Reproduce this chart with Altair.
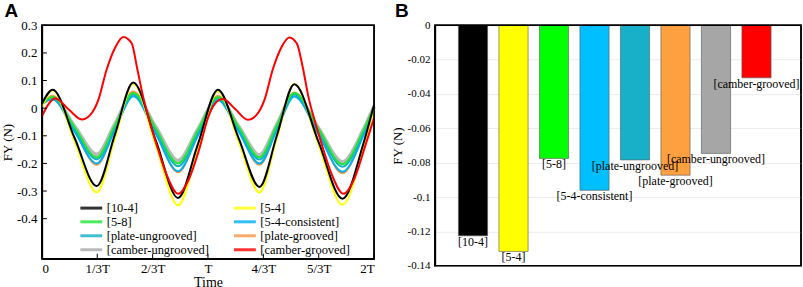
import altair as alt
import pandas as pd

SERIES = ["[10-4]", "[5-4]", "[5-8]", "[5-4-consistent]", "[plate-ungrooved]",
          "[plate-grooved]", "[camber-ungrooved]", "[camber-grooved]"]
LINE_COLORS = ["#000000", "#FFFF00", "#1EE632", "#00B0F0", "#12AEC8", "#F79646", "#A9A9A9", "#FF0000"]
BAR_COLORS = ["#000000", "#FFFF00", "#00FF00", "#00BFFF", "#17B0C8", "#FFA040", "#A6A6A6", "#FF0000"]

# Panel A: time in units of T, FY in N
T_KEY = [0, 0.065, 0.197, 0.33, 0.44, 0.55, 0.685, 0.82, 0.94,
         1.06, 1.185, 1.31, 1.415, 1.52, 1.665, 1.81, 1.935, 2.0]
FY_10_4 = [0.015, 0.067, -0.108, -0.282, -0.095, 0.093, -0.116, -0.325, -0.129,
           0.067, -0.109, -0.285, -0.099, 0.087, -0.121, -0.328, -0.13, 0.012]
FY_5_4 = [0.005, 0.065, -0.12, -0.305, -0.109, 0.088, -0.132, -0.352, -0.145,
          0.062, -0.122, -0.305, -0.109, 0.088, -0.132, -0.35, -0.145, 0.0]
FY_5_8 = [0.012, 0.04, -0.069, -0.178, -0.062, 0.055, -0.073, -0.2, -0.08,
          0.04, -0.069, -0.178, -0.062, 0.055, -0.074, -0.203, -0.082, 0.005]
FY_5_4_CONS = [0.022, 0.031, -0.085, -0.2, -0.079, 0.043, -0.093, -0.228, -0.099,
               0.03, -0.085, -0.2, -0.079, 0.042, -0.094, -0.23, -0.1, 0.0]
FY_PLATE_UNG = [0.014, 0.036, -0.075, -0.185, -0.068, 0.05, -0.08, -0.21, -0.087,
                0.036, -0.075, -0.186, -0.068, 0.05, -0.081, -0.212, -0.088, 0.003]
FY_PLATE_GR = [0.012, 0.045, -0.08, -0.205, -0.073, 0.06, -0.086, -0.232, -0.094,
               0.045, -0.08, -0.205, -0.074, 0.057, -0.089, -0.235, -0.095, 0.0]
FY_CAMBER_UNG = [0.016, 0.036, -0.066, -0.168, -0.058, 0.052, -0.069, -0.19, -0.077,
                 0.036, -0.067, -0.17, -0.06, 0.05, -0.073, -0.195, -0.08, 0.006]
T_RED = [0, 0.035, 0.08, 0.16, 0.24, 0.29, 0.34, 0.39, 0.44, 0.49, 0.54, 0.575, 0.61,
         0.65, 0.69, 0.75, 0.82, 0.89, 0.95, 1.0, 1.04, 1.09, 1.165, 1.24, 1.29, 1.34,
         1.39, 1.44, 1.49, 1.535, 1.57, 1.605, 1.645, 1.685, 1.745, 1.815, 1.885, 1.945, 2.0]
FY_CAMBER_GR = [-0.03, 0.01, 0.036, -0.004, -0.041, -0.025, 0.03, 0.14, 0.218, 0.258, 0.236,
                0.14, 0.04, -0.05, -0.131, -0.24, -0.31, -0.25, -0.143, -0.035, 0.015, 0.033,
                -0.004, -0.042, -0.026, 0.03, 0.14, 0.218, 0.256, 0.234, 0.15, 0.04, -0.05,
                -0.131, -0.24, -0.31, -0.25, -0.14, -0.035]

# Panel B: mean FY per configuration
MEAN_FY = [-0.1226, -0.1317, -0.0775, -0.0961, -0.0784, -0.0873, -0.0746, -0.0306]

X_TICKS = [0, 1 / 3, 2 / 3, 1, 4 / 3, 5 / 3, 2]
X_TICK_LABELS = ["0", "1/3T", "2/3T", "T", "4/3T", "5/3T", "2T"]
YA_TICKS = [0.3, 0.2, 0.1, 0, -0.1, -0.2, -0.3, -0.4]
YB_TICKS = [0, -0.02, -0.04, -0.06, -0.08, -0.1, -0.12, -0.14]

SERIF = "Liberation Serif"
WA, HA = 333, 234
WB, HB = 367, 241
EDGE = 1.5

curves = {
    "[10-4]": (T_KEY, FY_10_4),
    "[5-4]": (T_KEY, FY_5_4),
    "[5-8]": (T_KEY, FY_5_8),
    "[5-4-consistent]": (T_KEY, FY_5_4_CONS),
    "[plate-ungrooved]": (T_KEY, FY_PLATE_UNG),
    "[plate-grooved]": (T_KEY, FY_PLATE_GR),
    "[camber-ungrooved]": (T_KEY, FY_CAMBER_UNG),
    "[camber-grooved]": (T_RED, FY_CAMBER_GR),
}
rows = []
for name, (ts, ys) in curves.items():
    for t, y in zip(ts, ys):
        rows.append({"series": name, "t": t, "fy": y, "kind": "curve"})
# tick rows share the same table, flagged by kind
for t in X_TICKS:
    rows.append({"series": "", "t": t, "fy": None, "kind": "xtick"})
for y in YA_TICKS:
    rows.append({"series": "", "t": None, "fy": y, "kind": "ytick"})
line_df = pd.DataFrame(rows)

bar_df = pd.DataFrame({"series": SERIES, "fy": MEAN_FY})

label_js = "[" + ",".join("'%s'" % s for s in X_TICK_LABELS) + "]"

legend = alt.Legend(
    orient="none", legendX=37, legendY=177, columns=2, direction="horizontal", title=None,
    symbolType="stroke", symbolSize=480, symbolStrokeWidth=3,
    labelFont=SERIF, labelFontSize=12.5, labelColor="black", labelOffset=3,
    columnPadding=23, rowPadding=1, clipHeight=12, padding=0,
    gridAlign="each",
)
color_enc = alt.Color("series:N", scale=alt.Scale(domain=SERIES, range=LINE_COLORS),
                      legend=legend)

x_scale_a = alt.Scale(domain=[0, 2], nice=False, zero=False)
y_scale_a = alt.Scale(domain=[-0.545, 0.3], nice=False, zero=False)
x_axis_a = alt.Axis(values=X_TICKS, labelExpr=label_js + "[round(datum.value*3)]",
                    title="Time", grid=False, domain=True, domainColor="#000000",
                    domainWidth=EDGE, ticks=False,
                    labelPadding=4, labelFont=SERIF, labelFontSize=13,
                    labelColor="black", titleFont=SERIF, titleFontSize=14,
                    titleFontWeight="normal", titleColor="black", titlePadding=0)
y_axis_a = alt.Axis(values=YA_TICKS,
                    labelExpr="(datum.value < 0 ? '-' : '') + format(abs(datum.value), '~g')",
                    title="FY (N)", grid=False, domain=True, domainColor="#000000",
                    domainWidth=EDGE, ticks=False,
                    labelPadding=5, labelFont=SERIF, labelFontSize=13,
                    labelColor="black", titleFont=SERIF, titleFontSize=13,
                    titleFontWeight="normal", titleColor="black", titlePadding=2)
x_enc = alt.X("t:Q", scale=x_scale_a, axis=x_axis_a)
y_enc = alt.Y("fy:Q", scale=y_scale_a, axis=y_axis_a)

draw_order = ["[camber-ungrooved]", "[plate-grooved]", "[plate-ungrooved]", "[5-4-consistent]",
              "[5-8]", "[5-4]", "[10-4]", "[camber-grooved]"]
base_a = alt.Chart(line_df)
layers = []
for name in draw_order:
    w = 4 if name == "[camber-ungrooved]" else 2
    op = 0.8 if name == "[camber-ungrooved]" else 1
    layers.append(
        base_a.transform_filter(alt.datum.series == name)
        .mark_line(interpolate="monotone", strokeWidth=w, opacity=op)
        .encode(x=x_enc, y=y_enc, color=color_enc, order="t:Q")
    )

# inward tick marks of panel A, from the same table
xticks = base_a.transform_filter(alt.datum.kind == "xtick").mark_rule(
    color="#000000", strokeWidth=1).encode(x=x_enc, y=alt.value(HA - 5), y2=alt.value(HA))
yticks = base_a.transform_filter(alt.datum.kind == "ytick").mark_rule(
    color="#000000", strokeWidth=1).encode(y=y_enc, x=alt.value(0), x2=alt.value(5))


def frame_layer(base, w, h):
    one = base.transform_aggregate(n="count()")
    return one.mark_rect(fill="transparent", stroke="#000000", strokeWidth=EDGE).encode(
        x=alt.value(0), x2=alt.value(w), y=alt.value(0), y2=alt.value(h))


panel_a = alt.layer(*layers, xticks, yticks, frame_layer(base_a, WA, HA)).properties(
    width=WA, height=HA,
    title=alt.TitleParams("A", anchor="start", frame="bounds", font="Liberation Sans",
                          fontSize=19, fontWeight="bold", color="black", offset=-2, dx=3),
)

base_b = alt.Chart(bar_df)
xb = alt.X("series:N", sort=SERIES,
           scale=alt.Scale(paddingInner=0.28, paddingOuter=0.66, align=0.44), axis=None)
yb = alt.Y("fy:Q", scale=alt.Scale(domain=[-0.14, 0], nice=False, zero=False),
           axis=alt.Axis(values=YB_TICKS,
                         labelExpr="datum.value == 0 ? '0' : '-' + format(abs(datum.value), '~g')",
                         title="FY (N)", grid=True, gridColor="#ececec", gridWidth=1,
                         domain=True, domainColor="#000000", domainWidth=EDGE,
                         ticks=False, labelPadding=5,
                         labelFont=SERIF, labelFontSize=11, labelColor="black",
                         titleFont=SERIF, titleFontSize=13, titleFontWeight="normal",
                         titleColor="black", titlePadding=3))

bars = base_b.mark_bar(stroke="#555555", strokeWidth=0.6).encode(
    x=xb, y=yb,
    color=alt.Color("series:N", scale=alt.Scale(domain=SERIES, range=BAR_COLORS), legend=None),
)
labels = base_b.mark_text(font=SERIF, fontSize=12, baseline="middle", dy=6,
                          color="black").encode(x=xb, y=yb, text="series:N")

panel_b = alt.layer(bars, labels, frame_layer(base_b, WB, HB)).resolve_scale(
    color="independent").properties(
    width=WB, height=HB,
    title=alt.TitleParams("B", anchor="start", frame="bounds", font="Liberation Sans",
                          fontSize=19, fontWeight="bold", color="black", offset=-2, dx=4),
)

chart = alt.hconcat(panel_a, panel_b, spacing=7).resolve_scale(color="independent").properties(
    padding={"left": 0, "top": 1, "right": 0, "bottom": 0}
).configure_view(stroke="#000000", strokeWidth=EDGE)

chart.save("out.html", embed_options={"renderer": "svg", "actions": False})
